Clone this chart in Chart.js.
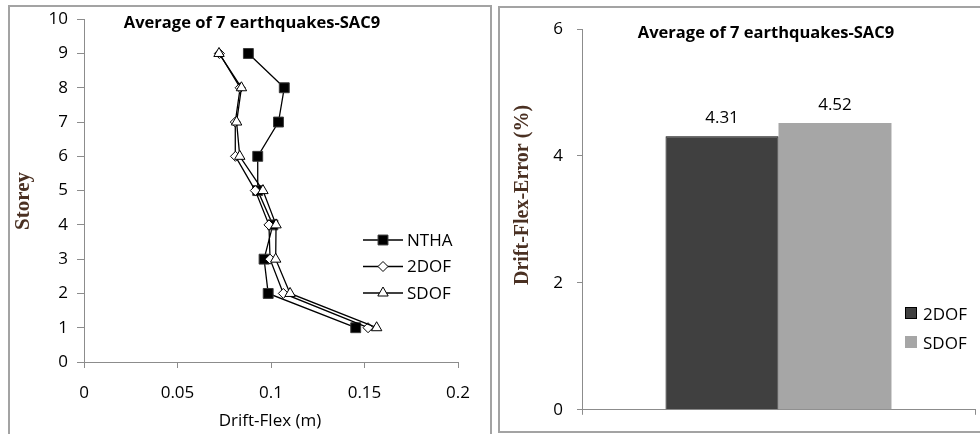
<!DOCTYPE html>
<html>
<head>
<meta charset="utf-8">
<script src="https://cdn.jsdelivr.net/npm/chart.js@4/dist/chart.umd.min.js"></script>
<style>
  html, body { margin:0; padding:0; background:#fff; width:980px; height:434px; overflow:hidden; }
  .frame { position:absolute; box-sizing:border-box; border:2px solid #a3a3a3; }
  canvas { position:absolute; top:0; }
</style>
</head>
<body>
<div class="frame" style="left:8px; top:5px; width:484px; height:450px;"></div>
<div class="frame" style="left:498px; top:6px; width:500px; height:427px;"></div>
<canvas id="c1" width="492" height="434" style="left:0px;"></canvas>
<canvas id="c2" width="488" height="434" style="left:492px;"></canvas>
<script>
// ---------------- data ----------------
const storeys = [1, 2, 3, 4, 5, 6, 7, 8, 9];
const nthaDrift = [0.1453, 0.0985, 0.0963, 0.1010, 0.0929, 0.0929, 0.1040, 0.1071, 0.0879];
const twoDofDrift = [0.1519, 0.1066, 0.0995, 0.0989, 0.0916, 0.0810, 0.0809, 0.0835, 0.0724];
const sdofDrift = [0.1565, 0.1102, 0.1025, 0.1027, 0.0957, 0.0833, 0.0816, 0.0842, 0.0722];
const lineSeriesNames = ['NTHA', '2DOF', 'SDOF'];

const barCategories = [''];
const barSeriesNames = ['2DOF', 'SDOF'];
const barErrors = [4.31, 4.52];

const chartTitle = 'Average of 7 earthquakes-SAC9';
const leftXTitle = 'Drift-Flex (m)';
const leftYTitle = 'Storey';
const rightYTitle = 'Drift-Flex-Error (%)';

// ---------------- helpers ----------------
const SANS = "'Open Sans', 'Liberation Sans', sans-serif";
const SERIF = "'Liberation Serif', 'DejaVu Serif', serif";
const AXIS = '#8c8c8c';
const TITLE_COLOR = '#4a3022';

function toPoints(xs) { return xs.map((v, i) => ({ x: v, y: storeys[i] })); }

function drawMarker(ctx, style, radius, x, y) {
  if (Chart.helpers && Chart.helpers.drawPoint) {
    Chart.helpers.drawPoint(ctx, { pointStyle: style, radius: radius, borderWidth: 1, rotation: 0 }, x, y);
  }
}

function textPlugin(items) {
  return {
    id: 'freeText',
    afterDraw(chart) {
      const ctx = chart.ctx;
      items.forEach(it => {
        ctx.save();
        ctx.font = it.font;
        ctx.fillStyle = it.color || '#000';
        ctx.textAlign = 'center';
        ctx.textBaseline = 'middle';
        ctx.translate(it.x, it.y);
        if (it.rotate) ctx.rotate(it.rotate);
        ctx.fillText(it.text, 0, 0);
        ctx.restore();
      });
    }
  };
}

// ---------------- left chart ----------------
const lineStyles = [
  { pointStyle: 'rect', radius: 7, bg: '#000000', border: '#3a3a3a' },
  { pointStyle: 'rectRot', radius: 5, bg: '#ffffff', border: '#000000' },
  { pointStyle: 'triangle', radius: 6, bg: '#ffffff', border: '#000000' }
];
const lineValues = [nthaDrift, twoDofDrift, sdofDrift];

const lineLegendPlugin = {
  id: 'lineLegend',
  afterDraw(chart) {
    const ctx = chart.ctx;
    const x0 = 363, x1 = 403, tx = 407;
    const ys = [240, 266.5, 293];
    chart.data.datasets.forEach((ds, i) => {
      const y = ys[i];
      ctx.save();
      ctx.strokeStyle = '#000';
      ctx.lineWidth = 1.5;
      ctx.beginPath(); ctx.moveTo(x0, y); ctx.lineTo(x1, y); ctx.stroke();
      ctx.fillStyle = ds.pointBackgroundColor;
      ctx.strokeStyle = ds.pointBorderColor;
      ctx.lineWidth = 1;
      drawMarker(ctx, ds.pointStyle, ds.pointRadius, (x0 + x1) / 2, y);
      ctx.fillStyle = '#000';
      ctx.font = '17px ' + SANS;
      ctx.textAlign = 'left';
      ctx.textBaseline = 'middle';
      ctx.fillText(ds.label, tx, y + 1);
      ctx.restore();
    });
  }
};

const fmt = v => String(parseFloat(Number(v).toFixed(4)));

new Chart(document.getElementById('c1'), {
  type: 'scatter',
  data: {
    datasets: lineSeriesNames.map((name, i) => ({
      label: name,
      data: toPoints(lineValues[i]),
      showLine: true,
      borderColor: '#000',
      borderWidth: 1.3,
      pointStyle: lineStyles[i].pointStyle,
      pointRadius: lineStyles[i].radius,
      pointHoverRadius: lineStyles[i].radius,
      pointBackgroundColor: lineStyles[i].bg,
      pointBorderColor: lineStyles[i].border,
      pointBorderWidth: 1,
      order: 3 - i
    }))
  },
  options: {
    responsive: false,
    animation: false,
    devicePixelRatio: 1,
    layout: { padding: { left: 0, top: 19, right: 34, bottom: 0 } },
    plugins: { legend: { display: false }, tooltip: { enabled: false }, title: { display: false } },
    scales: {
      x: {
        type: 'linear', min: 0, max: 0.2,
        ticks: { stepSize: 0.05, color: '#000', font: { family: SANS, size: 17 }, padding: 15, maxRotation: 0, callback: fmt },
        grid: { drawOnChartArea: false, drawTicks: true, tickLength: 6, color: AXIS, tickColor: AXIS },
        border: { color: AXIS, width: 1 },
        afterFit(s) { s.height = 72; }
      },
      y: {
        type: 'linear', min: 0, max: 10,
        ticks: { stepSize: 1, color: '#000', font: { family: SANS, size: 17 }, padding: 9, callback: fmt },
        grid: { drawOnChartArea: false, drawTicks: true, tickLength: 7, color: AXIS, tickColor: AXIS },
        border: { color: AXIS, width: 1 },
        afterFit(s) { s.width = 84; }
      }
    }
  },
  plugins: [
    lineLegendPlugin,
    textPlugin([
      { text: chartTitle, x: 252, y: 23, font: 'bold 16.5px ' + SANS },
      { text: leftXTitle, x: 270, y: 421, font: '17px ' + SANS },
      { text: leftYTitle, x: 24, y: 201, font: 'bold 21px ' + SERIF, color: TITLE_COLOR, rotate: -Math.PI / 2 }
    ])
  ]
});

// ---------------- right chart ----------------
const barColors = ['#404040', '#a6a6a6'];
const barBorders = ['#000000', '#a6a6a6'];

const barLabelPlugin = {
  id: 'barLabels',
  afterDatasetsDraw(chart) {
    const ctx = chart.ctx;
    chart.data.datasets.forEach((ds, i) => {
      const meta = chart.getDatasetMeta(i);
      meta.data.forEach((el, j) => {
        ctx.save();
        ctx.fillStyle = '#000';
        ctx.font = '17px ' + SANS;
        ctx.textAlign = 'center';
        ctx.textBaseline = 'middle';
        ctx.fillText(ds.data[j].toFixed(2), el.x, el.y - 18);
        ctx.restore();
      });
    });
  }
};

const barLegendPlugin = {
  id: 'barLegend',
  afterDraw(chart) {
    const ctx = chart.ctx;
    const ys = [313, 342];
    chart.data.datasets.forEach((ds, i) => {
      const y = ys[i];
      ctx.save();
      ctx.fillStyle = ds.backgroundColor;
      ctx.fillRect(413, y - 6, 12, 12);
      if (i === 0) { ctx.strokeStyle = '#000'; ctx.lineWidth = 1; ctx.strokeRect(413.5, y - 5.5, 11, 11); }
      ctx.fillStyle = '#000';
      ctx.font = '17px ' + SANS;
      ctx.textAlign = 'left';
      ctx.textBaseline = 'middle';
      ctx.fillText(ds.label, 431, y + 2);
      ctx.restore();
    });
  }
};

new Chart(document.getElementById('c2'), {
  type: 'bar',
  data: {
    labels: barCategories,
    datasets: barSeriesNames.map((name, i) => ({
      label: name,
      data: [barErrors[i]],
      backgroundColor: barColors[i],
      borderColor: barBorders[i],
      borderWidth: i === 0 ? 1 : 0,
      categoryPercentage: 0.575,
      barPercentage: 1.0
    }))
  },
  options: {
    responsive: false,
    animation: false,
    devicePixelRatio: 1,
    layout: { padding: { left: 0, top: 29, right: 5, bottom: 0 } },
    plugins: { legend: { display: false }, tooltip: { enabled: false }, title: { display: false } },
    scales: {
      x: {
        ticks: { display: false },
        grid: { offset: true, drawOnChartArea: false, drawTicks: true, tickLength: 5, color: AXIS, tickColor: AXIS },
        border: { color: AXIS, width: 1 },
        afterFit(s) { s.height = 20; }
      },
      y: {
        min: 0, max: 6,
        ticks: { stepSize: 2, color: '#000', font: { family: SANS, size: 17 }, padding: 14 },
        grid: { drawOnChartArea: false, drawTicks: true, tickLength: 5, color: AXIS, tickColor: AXIS },
        border: { color: AXIS, width: 1 },
        afterFit(s) { s.width = 90; }
      }
    }
  },
  plugins: [
    barLabelPlugin,
    barLegendPlugin,
    textPlugin([
      { text: chartTitle, x: 274, y: 33, font: 'bold 16.5px ' + SANS },
      { text: rightYTitle, x: 31, y: 195, font: 'bold 20px ' + SERIF, color: TITLE_COLOR, rotate: -Math.PI / 2 }
    ])
  ]
});
</script>
</body>
</html>
